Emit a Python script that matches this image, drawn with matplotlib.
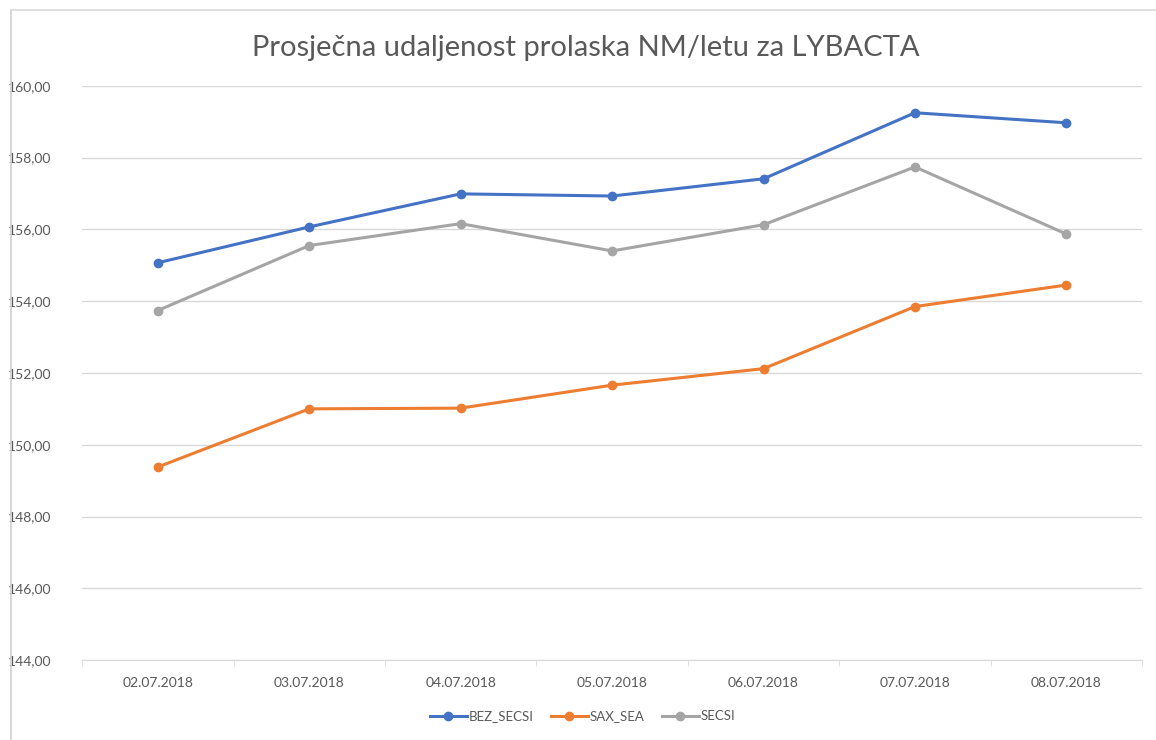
import matplotlib
matplotlib.use("Agg")
import matplotlib.pyplot as plt
import numpy as np
from matplotlib.lines import Line2D

categories = ["02.07.2018", "03.07.2018", "04.07.2018", "05.07.2018",
              "06.07.2018", "07.07.2018", "08.07.2018"]
bez_secsi = [155.07, 156.07, 156.99, 156.93, 157.41, 159.25, 158.97]
sax_sea = [149.38, 151.00, 151.02, 151.66, 152.12, 153.85, 154.45]
secsi = [153.74, 155.55, 156.16, 155.40, 156.13, 157.74, 155.87]
series_names = ["BEZ_SECSI", "SAX_SEA", "SECSI"]
colors = ["#4472C4", "#ED7D31", "#A5A5A5"]
y_ticks = [144, 146, 148, 150, 152, 154, 156, 158, 160]

plt.rcParams['font.family'] = ['Lato', 'DejaVu Sans']

fig = plt.figure(figsize=(11.56, 7.40), dpi=100)
ax = fig.add_axes([0.071, 0.108, 0.917, 0.776])

# outer chart border
fig.add_artist(plt.Line2D([11/1156, 11/1156], [0, 1 - 10/740], transform=fig.transFigure,
                          color="#d0d0d0", lw=1.2))
fig.add_artist(plt.Line2D([11/1156, 1], [1 - 10/740, 1 - 10/740], transform=fig.transFigure,
                          color="#d9d9d9", lw=1.2))

x = np.arange(len(categories))

handles = []
for ys, name, c in zip([bez_secsi, sax_sea, secsi], series_names, colors):
    ax.plot(x, ys, color=c, lw=2.2, marker="o", markersize=6, zorder=3,
            solid_joinstyle="round", solid_capstyle="round")
    handles.append(Line2D([0], [0], color=c, lw=2.2, marker="o", markersize=6))

ax.set_xlim(-0.5, len(categories) - 0.5)
ax.set_ylim(144, 160)
ax.set_yticks(y_ticks)
ax.set_yticklabels([f"{v:.2f}".replace(".", ",") for v in y_ticks])
ax.set_xticks(x)
ax.set_xticklabels(categories)
ax.grid(axis="y", color="#d9d9d9", lw=1.0)
ax.set_axisbelow(True)
for s in ["top", "right", "left"]:
    ax.spines[s].set_visible(False)
ax.spines["bottom"].set_color("#d9d9d9")
ax.tick_params(axis="y", length=0, pad=22, labelsize=10, labelcolor="#595959")
ax.tick_params(axis="x", length=0, pad=12, labelsize=10, labelcolor="#595959")
ax.set_xticks(np.arange(-0.5, len(categories), 1.0), minor=True)
ax.tick_params(axis="x", which="minor", length=4, color="#d9d9d9", direction="out")

fig.text(0.507, 0.935, "Prosječna udaljenost prolaska NM/letu za LYBACTA",
         ha="center", va="center", fontsize=21, color="#595959")

fig.legend(handles, series_names, loc="center", bbox_to_anchor=(0.504, 0.032), ncol=3,
           frameon=False, fontsize=9.5, labelcolor="#595959", handlelength=2.8,
           columnspacing=1.3, handletextpad=0.15)

fig.savefig("out.png", dpi=100, facecolor="white")
